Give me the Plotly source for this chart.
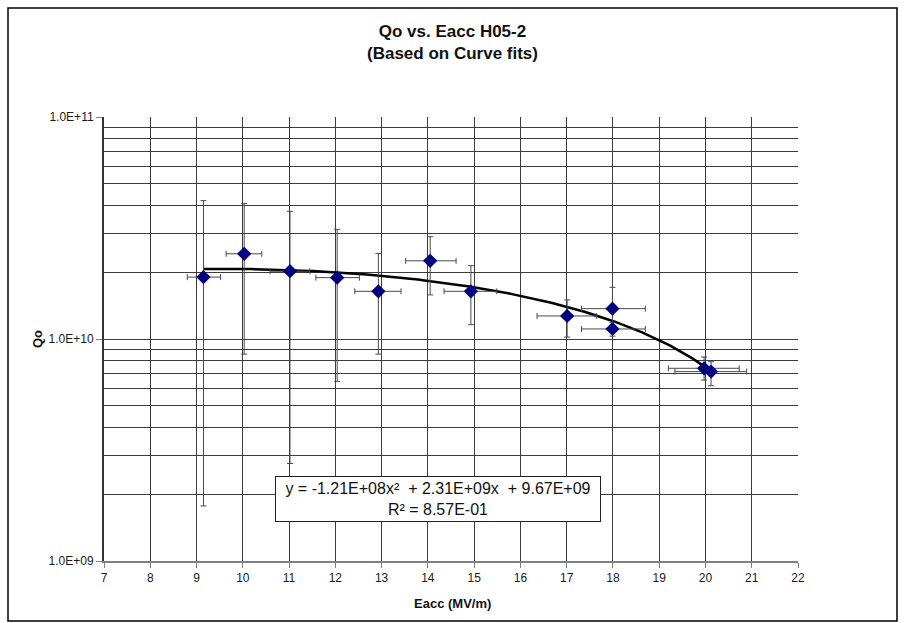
import plotly.graph_objects as go
import numpy as np

# ---- data ----
eacc = [9.15, 10.03, 11.02, 12.04, 12.93, 14.05, 14.93, 17.01, 17.99, 17.99, 19.97, 20.12]
qo = [1.90e10, 2.42e10, 2.02e10, 1.89e10, 1.64e10, 2.25e10, 1.64e10, 1.27e10, 1.37e10, 1.11e10, 7.38e9, 7.13e9]
qo_hi = [4.20e10, 4.08e10, 3.76e10, 3.12e10, 2.43e10, 2.89e10, 2.14e10, 1.50e10, 1.71e10, 1.19e10, 8.30e9, 7.90e9]
qo_lo = [1.77e9, 8.55e9, 2.75e9, 6.43e9, 8.55e9, 1.58e10, 1.16e10, 1.02e10, 1.15e10, 1.03e10, 6.53e9, 6.16e9]
eacc_lo = [8.80, 9.64, 10.59, 11.58, 12.42, 13.52, 14.35, 16.36, 17.32, 17.32, 19.20, 19.34]
eacc_hi = [9.52, 10.41, 11.45, 12.52, 13.42, 14.61, 15.49, 17.64, 18.70, 18.70, 20.73, 20.89]

# polynomial trendline coefficients shown on the chart (x^2, x, 1)
fit_coef = [-1.21e8, 2.31e9, 9.67e9]
fit_label = "y = -1.21E+08x²  + 2.31E+09x  + 9.67E+09<br>R² = 8.57E-01"

y_major = [1e9, 1e10, 1e11]
y_major_text = ["1.0E+09", "1.0E+10", "1.0E+11"]
x_ticks = list(range(7, 23))

FONT = "Liberation Sans, Arial, sans-serif"
GRID = "#3c3c3c"

# plot area in pixels
L, R, T, B = 104, 798, 117, 561
W, H = 905, 623

def px(xp):
    return (xp - L) / (R - L)

def py(yp):
    return (B - yp) / (B - T)

fig = go.Figure()

xf = np.linspace(min(eacc), max(eacc), 200)
yf = np.polyval(fit_coef, xf)
fig.add_trace(go.Scatter(x=xf, y=yf, mode="lines",
                         line=dict(color="black", width=2.5),
                         hoverinfo="skip", showlegend=False))

fig.add_trace(go.Scatter(
    x=eacc, y=qo, mode="markers",
    marker=dict(symbol="diamond", size=11, color="#000080",
                line=dict(width=0)),
    error_y=dict(type="data", symmetric=False,
                 array=[h - v for h, v in zip(qo_hi, qo)],
                 arrayminus=[v - l for l, v in zip(qo_lo, qo)],
                 color="#4a4a4a", thickness=1, width=3),
    error_x=dict(type="data", symmetric=False,
                 array=[h - v for h, v in zip(eacc_hi, eacc)],
                 arrayminus=[v - l for l, v in zip(eacc_lo, eacc)],
                 color="#4a4a4a", thickness=1, width=3),
    showlegend=False))

minor_vals = [m * d for d in (1e9, 1e10) for m in range(2, 10)]

fig.update_layout(
    width=W, height=H,
    margin=dict(l=L, r=W - R, t=T, b=H - B, pad=0),
    paper_bgcolor="white", plot_bgcolor="white",
    font=dict(family=FONT, color="#1a1a1a", size=12),
    title=dict(text="<b>Qo vs. Eacc H05-2<br>(Based on Curve fits)</b>",
               x=0.5, xanchor="center", y=1 - 37 / H, yanchor="middle",
               font=dict(family=FONT, size=17, color="#111")),
    xaxis=dict(range=[7, 22], tickvals=x_ticks, showgrid=True,
               gridcolor=GRID, gridwidth=1, zeroline=False,
               showline=True, linecolor="#808080", linewidth=2,
               ticks="outside", ticklen=5, tickcolor="#808080",
               tickfont=dict(size=12, family=FONT)),
    yaxis=dict(type="log", range=[9, 11], tickvals=y_major,
               ticktext=y_major_text, showgrid=True, gridcolor=GRID,
               gridwidth=1, zeroline=False, showline=True,
               linecolor="#333", linewidth=2, ticks="outside",
               ticklen=6, tickcolor="#808080",
               tickfont=dict(size=12, family=FONT),
               minor=dict(tickvals=minor_vals, showgrid=True,
                          gridcolor=GRID, gridwidth=1, ticks="")),
    annotations=[
        dict(text=fit_label, xref="paper", yref="paper",
             x=px(437.5), y=py(498.5), xanchor="center", yanchor="middle",
             showarrow=False, bgcolor="white", bordercolor="#222",
             borderwidth=1, width=322, height=42, align="center",
             font=dict(size=16, family=FONT, color="#111")),
        dict(text="<b>Eacc (MV/m)</b>", xref="paper", yref="paper",
             x=px(452), y=py(603), xanchor="center", yanchor="middle",
             showarrow=False, font=dict(size=13, family=FONT, color="#111")),
        dict(text="<b>Qo</b>", xref="paper", yref="paper",
             x=px(37), y=py(339), xanchor="center", yanchor="middle",
             textangle=-90, showarrow=False,
             font=dict(size=13, family=FONT, color="#111")),
    ],
    shapes=[dict(type="rect", xref="paper", yref="paper",
                 x0=px(8), x1=px(897), y0=py(621), y1=py(8),
                 line=dict(color="black", width=1.5), layer="below")],
)

fig.write_html("out.html", config={"displayModeBar": False},
               post_script="document.body.style.margin='0';document.body.style.overflow='hidden';")
